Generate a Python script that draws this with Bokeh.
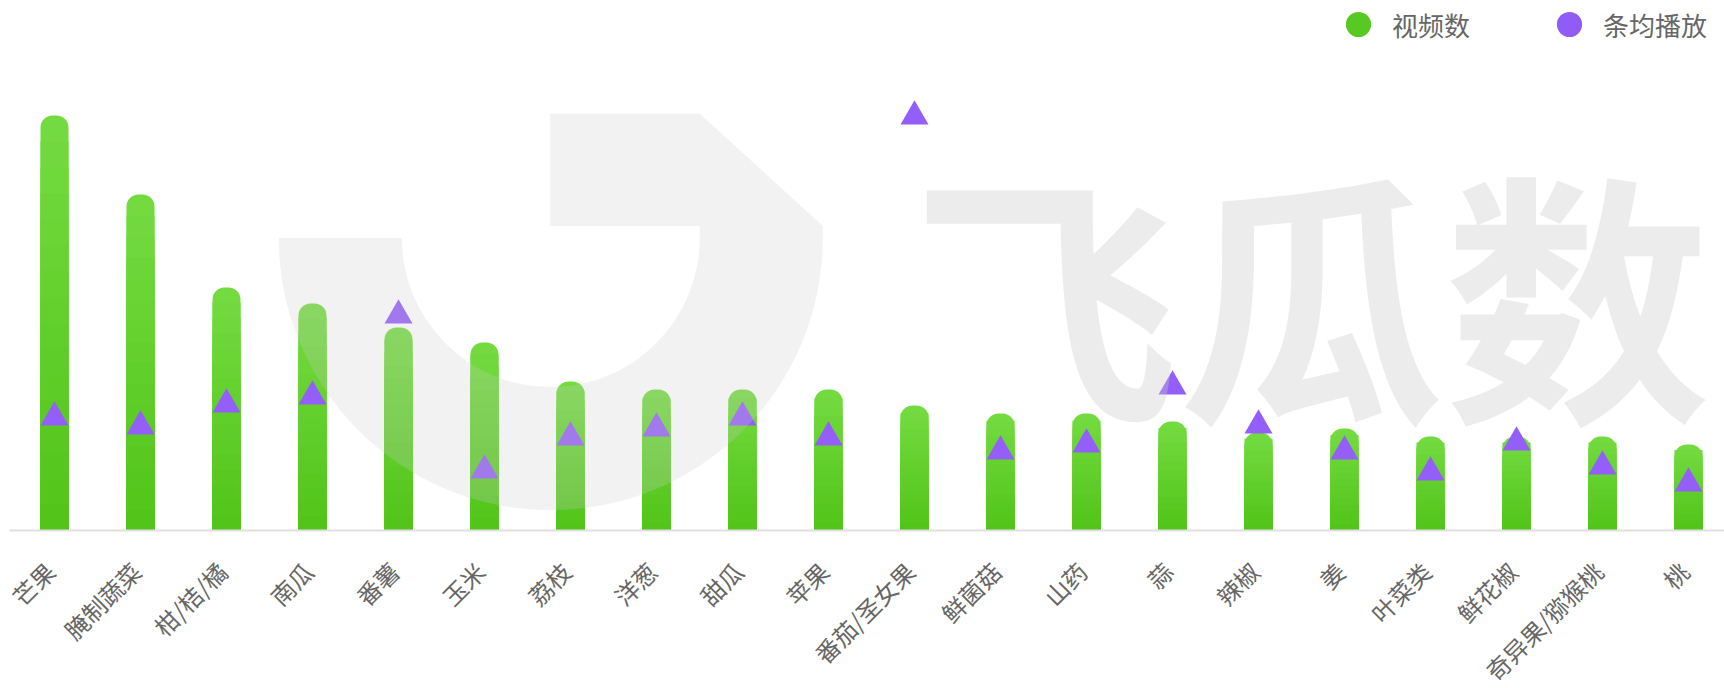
import numpy as np
from bokeh.plotting import figure
from bokeh.models import Range1d, LinearAxis, FixedTicker, Legend, LegendItem
from bokeh.core.properties import value
from bokeh.embed import file_html
from bokeh.resources import INLINE

# ---------------- data ----------------
categories = ["芒果", "腌制蔬菜", "柑/桔/橘", "南瓜", "番薯", "玉米", "荔枝", "洋葱", "甜瓜", "苹果",
              "番茄/圣女果", "鲜菌菇", "山药", "蒜", "辣椒", "姜", "叶菜类", "鲜花椒", "奇异果/猕猴桃", "桃"]
video_counts = [4150, 3360, 2430, 2270, 2030, 1880, 1490, 1410, 1410, 1410,
                1250, 1170, 1170, 1090, 980, 1020, 940, 940, 940, 860]
avg_plays = [11.8, 10.9, 13.1, 13.9, 22.0, 6.5, 9.8, 10.7, 11.8, 9.8,
             41.9, 8.4, 9.1, 14.9, 11.0, 8.4, 6.3, 9.3, 6.9, 5.2]
legend_labels = ["视频数", "条均播放"]

# ---------------- layout constants ----------------
FONT = "Noto Sans CJK SC"
W, H = 1724, 688
STEP = 100                 # data units per category
PX_PER_CAT = 86.0          # px per category
FIRST_PX = 54.0            # px of first category centre
BASE_PX = 530.0            # px of the baseline (value 0)
Y_PER_PX = 10.0            # video-count units per px
P_PER_PX = 0.1             # avg-play units per px
TRI_SHIFT_PX = 5.0         # visual centring of the triangle marker
BAR_W = STEP * 28 / PX_PER_CAT
LABEL_DX_PX = -4.5
LABEL_DROP_PX = 36.0

def wx(px):
    return (px - FIRST_PX) / PX_PER_CAT * STEP

def wy(py):
    return (BASE_PX - py) * Y_PER_PX

x_range = Range1d(wx(0), wx(W))
y_range = Range1d(wy(H), wy(0))
plays_range = Range1d((TRI_SHIFT_PX - (H - BASE_PX)) * P_PER_PX, (BASE_PX + TRI_SHIFT_PX) * P_PER_PX)

n = len(categories)
xs = [i * STEP for i in range(n)]

p = figure(width=W, height=H, x_range=x_range, y_range=y_range,
           output_backend="svg", toolbar_location=None, x_axis_location=None, y_axis_location=None,
           min_border=0, min_border_left=0, min_border_right=0, min_border_top=0, min_border_bottom=0,
           outline_line_color=None, background_fill_color="white", border_fill_color="white", title=None)
p.extra_y_ranges = {"plays": plays_range}
p.grid.visible = False

# ---------------- baseline axis ----------------
xaxis = LinearAxis(ticker=FixedTicker(ticks=[], minor_ticks=[]), fixed_location=0,
                   bounds=(wx(9), wx(W)),
                   axis_line_color="#e0e0e0", axis_line_width=2,
                   major_tick_line_color=None, minor_tick_line_color=None,
                   major_tick_out=0, major_tick_in=0, minor_tick_out=0, minor_tick_in=0,
                   major_label_text_color=None)
p.add_layout(xaxis, "below")

# ---------------- gradient bars (layered) ----------------
top_c = np.array([0x73, 0xdb, 0x3f], dtype=float)
bot_c = np.array([0x52, 0xc4, 0x1a], dtype=float)
N = 16
for k in range(N):
    frac = (N - k) / N
    t = k / (N - 1)
    c = top_c * (1 - t) + bot_c * t
    col = "#%02x%02x%02x" % tuple(int(round(v)) for v in c)
    p.vbar(x=xs, top=[v * frac for v in video_counts], bottom=0, width=BAR_W,
           fill_color=col, line_color=None,
           border_radius=(12, 12, 0, 0) if k == 0 else 0)

# ---------------- triangles ----------------
p.scatter(x=xs, y=avg_plays, marker="triangle", size=28, fill_color="#935ef9",
          line_color=None, y_range_name="plays")

# ---------------- category labels (rotated) ----------------
p.text(x=[x + LABEL_DX_PX / PX_PER_CAT * STEP for x in xs],
       y=[-LABEL_DROP_PX * Y_PER_PX] * n, text=categories, angle=np.pi / 4,
       text_align="right", text_baseline="middle",
       text_font=value(FONT), text_font_size="24px", text_color="#666666")

# ---------------- legend ----------------
r1 = p.scatter(x=[np.nan], y=[np.nan], marker="circle", fill_color="#58c923",
               line_color="#58c923", line_width=6)
r2 = p.scatter(x=[np.nan], y=[np.nan], marker="circle", fill_color="#8f5cf7",
               line_color="#8f5cf7", line_width=6)
legend = Legend(items=[LegendItem(label=legend_labels[0], renderers=[r1]),
                       LegendItem(label=legend_labels[1], renderers=[r2])],
                location=(1326, H - 48), orientation="horizontal",
                glyph_width=64, glyph_height=48, label_standoff=2, spacing=67, padding=0, margin=0,
                border_line_color=None, background_fill_alpha=0,
                label_text_font=FONT, label_text_font_size="26px", label_text_color="#666666")
p.add_layout(legend)

# ---------------- watermark (logo overlay) ----------------
WM = "#cbcbcb"
p.annular_wedge(x=wx(550.3), y=wy(237.5), inner_radius=149, outer_radius=272,
                inner_radius_units="screen", outer_radius_units="screen",
                start_angle=np.pi, end_angle=2 * np.pi,
                fill_color=WM, fill_alpha=0.25, line_color=None)
p.patch(x=[wx(v) for v in [549.7, 699.3, 822.4, 822.4, 699.3, 699.3, 549.7]],
        y=[wy(v) for v in [113.2, 113.2, 225.4, 237.5, 237.5, 225.4, 225.4]],
        fill_color=WM, fill_alpha=0.25, line_color=None)
p.text(x=[wx(912)], y=[wy(287)], text=["飞瓜数"], text_font=value(FONT), text_font_style="bold",
       text_font_size="266px", text_color=WM, text_alpha=0.36,
       text_baseline="middle", text_align="left")

open("out.html", "w").write(file_html(p, INLINE))
